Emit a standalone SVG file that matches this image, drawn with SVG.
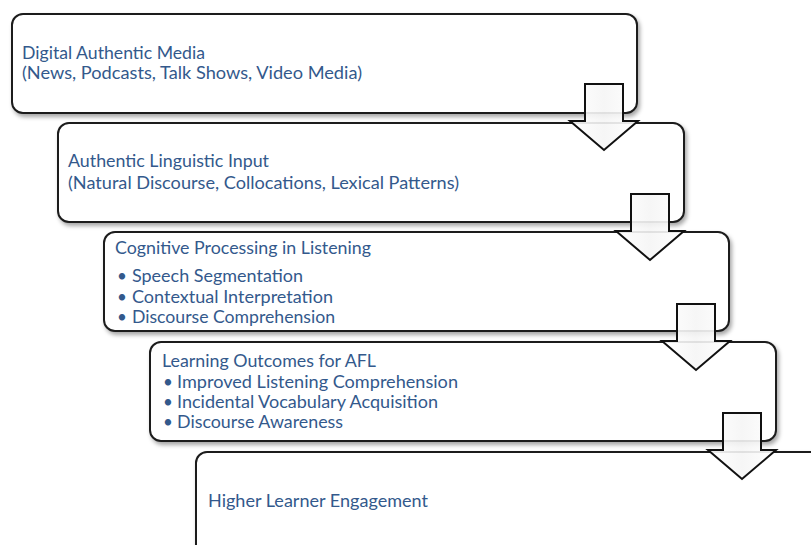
<svg xmlns="http://www.w3.org/2000/svg" width="811" height="545" viewBox="0 0 811 545">
  <defs>
    <filter id="shadow" x="-5%" y="-10%" width="115%" height="130%">
      <feDropShadow dx="2" dy="3" stdDeviation="2" flood-color="#000" flood-opacity="0.35"/>
    </filter>
    <linearGradient id="arrowFill" x1="0" y1="0" x2="1" y2="0">
      <stop offset="0" stop-color="#ffffff"/>
      <stop offset="0.5" stop-color="#f5f5f5"/>
      <stop offset="1" stop-color="#ffffff"/>
    </linearGradient>
    <!-- down block arrow, centred on x=0, top at y=0 -->
    <path id="downArrow" d="M -19 0 H 19 V 37 H 34 L 0 66 L -34 37 H -19 Z"/>
  </defs>
  <style>
    .box { fill: #ffffff; stroke: #1c1c1c; stroke-width: 2; filter: url(#shadow); }
    .txt { font-family: Lato, "Liberation Sans", sans-serif; font-size: 17px; fill: #33598c; }
    .arrow { fill: url(#arrowFill); fill-opacity: 0.9; stroke: #111111; stroke-width: 2; stroke-linejoin: miter; }
  </style>
  <rect width="811" height="545" fill="#ffffff"/>

  <g id="node-media">
    <rect class="box" x="12" y="14" width="625" height="99" rx="11"/>
    <text class="txt" x="22" y="59" textLength="183" lengthAdjust="spacingAndGlyphs">Digital Authentic Media</text>
    <text class="txt" x="22" y="79" textLength="340" lengthAdjust="spacingAndGlyphs">(News, Podcasts, Talk Shows, Video Media)</text>
  </g>

  <g id="node-input">
    <rect class="box" x="58" y="123" width="626" height="99" rx="11"/>
    <text class="txt" x="68" y="167" textLength="201" lengthAdjust="spacingAndGlyphs">Authentic Linguistic Input</text>
    <text class="txt" x="68" y="189" textLength="391" lengthAdjust="spacingAndGlyphs">(Natural Discourse, Collocations, Lexical Patterns)</text>
  </g>

  <g id="node-processing">
    <rect class="box" x="104" y="232" width="625" height="99" rx="11"/>
    <text class="txt" x="115" y="254" textLength="256" lengthAdjust="spacingAndGlyphs">Cognitive Processing in Listening</text>
    <text class="txt" x="117" y="282">•</text>
    <text class="txt" x="132" y="282" textLength="171" lengthAdjust="spacingAndGlyphs">Speech Segmentation</text>
    <text class="txt" x="117" y="303">•</text>
    <text class="txt" x="132" y="303" textLength="201" lengthAdjust="spacingAndGlyphs">Contextual Interpretation</text>
    <text class="txt" x="117" y="323">•</text>
    <text class="txt" x="132" y="323" textLength="203" lengthAdjust="spacingAndGlyphs">Discourse Comprehension</text>
  </g>

  <g id="node-outcomes">
    <rect class="box" x="150" y="342" width="626" height="99" rx="11"/>
    <text class="txt" x="162" y="367" textLength="214" lengthAdjust="spacingAndGlyphs">Learning Outcomes for AFL</text>
    <text class="txt" x="163" y="388">•</text>
    <text class="txt" x="177" y="388" textLength="281" lengthAdjust="spacingAndGlyphs">Improved Listening Comprehension</text>
    <text class="txt" x="163" y="408">•</text>
    <text class="txt" x="177" y="408" textLength="261" lengthAdjust="spacingAndGlyphs">Incidental Vocabulary Acquisition</text>
    <text class="txt" x="163" y="428">•</text>
    <text class="txt" x="177" y="428" textLength="166" lengthAdjust="spacingAndGlyphs">Discourse Awareness</text>
  </g>

  <g id="node-engagement">
    <rect class="box" x="196" y="452" width="626" height="110" rx="11"/>
    <text class="txt" x="208" y="507" textLength="220" lengthAdjust="spacingAndGlyphs">Higher Learner Engagement</text>
  </g>

  <g id="connectors">
    <use href="#downArrow" class="arrow" transform="translate(604 84)"/>
    <use href="#downArrow" class="arrow" transform="translate(650 194)"/>
    <use href="#downArrow" class="arrow" transform="translate(696 304)"/>
    <use href="#downArrow" class="arrow" transform="translate(742 413)"/>
  </g>
</svg>
